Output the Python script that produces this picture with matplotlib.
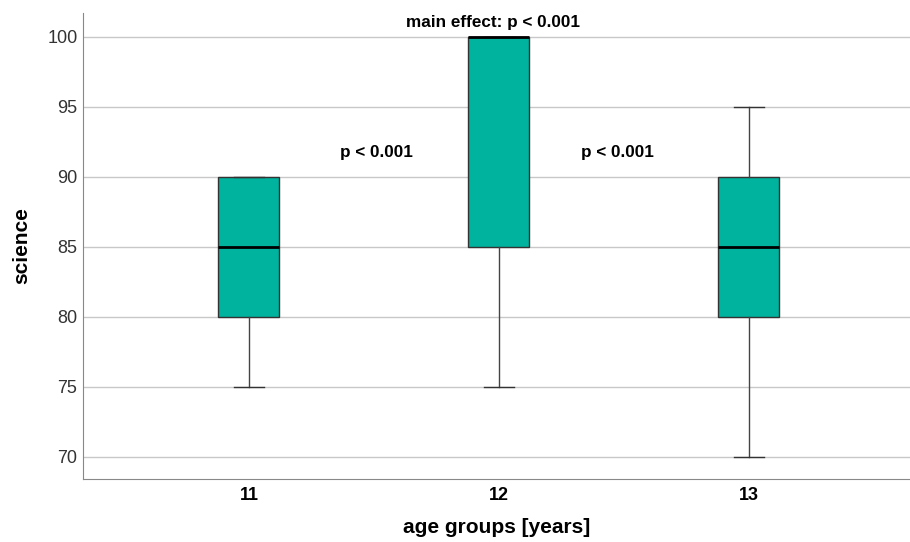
import matplotlib
matplotlib.use("Agg")
import matplotlib.pyplot as plt

# ---- Datos ----
groups = ["11", "12", "13"]
whis_lo = [75, 75, 70]
q1 = [80, 85, 80]
median = [85, 100, 85]
q3 = [90, 100, 90]
whis_hi = [90, 100, 95]

pair_labels = ["p < 0.001", "p < 0.001"]
main_label = "main effect: p < 0.001"

plt.rcParams['font.family'] = ['Liberation Sans', 'DejaVu Sans']

stats = []
for i, g in enumerate(groups):
    stats.append(dict(label=g, whislo=whis_lo[i], q1=q1[i], med=median[i],
                      q3=q3[i], whishi=whis_hi[i], fliers=[]))

fig = plt.figure(figsize=(9.1, 5.42), dpi=100)
ax = fig.add_axes([0.0912, 0.1162, 0.9088, 0.8598])

ax.bxp(stats, positions=[1, 2, 3], widths=0.244, patch_artist=True,
       showfliers=False,
       boxprops=dict(facecolor='#00b39f', edgecolor='#333333', linewidth=1.0),
       medianprops=dict(color='black', linewidth=2.0),
       whiskerprops=dict(color='#444444', linewidth=1.0),
       capprops=dict(color='#333333', linewidth=1.0),
       capwidths=0.12)

ax.set_xlim(0.336, 3.644)
ax.set_ylim(68.4, 101.7)
ax.set_yticks([70, 75, 80, 85, 90, 95, 100])
ax.yaxis.grid(True, color='#c8c8c8', linewidth=1.0)
ax.set_axisbelow(True)

for s in ['top', 'right']:
    ax.spines[s].set_visible(False)
for s in ['left', 'bottom']:
    ax.spines[s].set_color('#888888')
ax.tick_params(length=0)
ax.tick_params(axis='y', labelsize=13, labelcolor='#333333', pad=4)
ax.tick_params(axis='x', labelsize=13, pad=6)
for t in ax.get_xticklabels():
    t.set_fontweight('bold')

ax.set_xlabel("age groups [years]", fontsize=15, fontweight='bold', va='center')
ax.xaxis.set_label_coords(0.5, -0.103)
ax.set_ylabel("science", fontsize=15, fontweight='bold', va='center')
ax.yaxis.set_label_coords(-0.074, 0.5)

ax.text(1.508, 91.7, pair_labels[0], ha='center', va='center', fontsize=12.3, fontweight='bold')
ax.text(2.472, 91.7, pair_labels[1], ha='center', va='center', fontsize=12.3, fontweight='bold')
ax.text(1.976, 101.0, main_label, ha='center', va='center', fontsize=12.3, fontweight='bold')

fig.savefig("out.png", dpi=100)
